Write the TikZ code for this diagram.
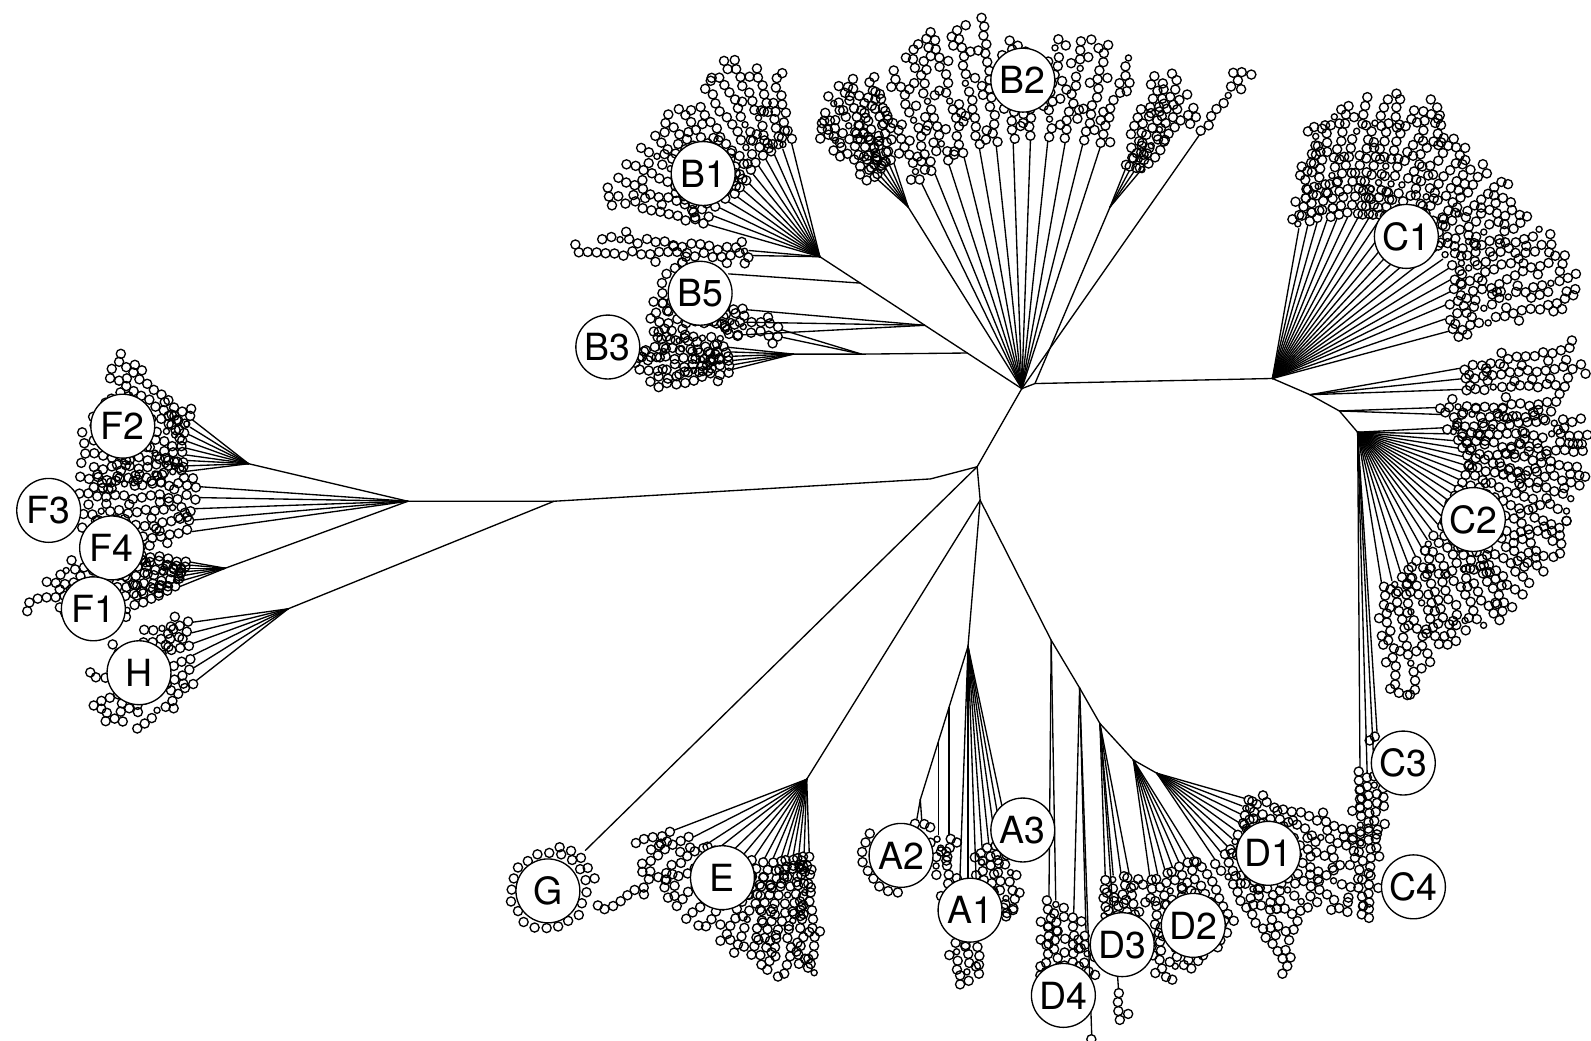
\documentclass[tikz,border=0pt]{standalone}
\usepackage{fontspec}
\setmainfont{TeX Gyre Heros}
\usetikzlibrary{calc}

% fan of leaf branches: hub, list of angle/line length/number of leaves
\newcommand\leafrays[2]{%
  \foreach \ra/\rl/\rn in {#2}{%
    \draw[branch] (#1) -- ++(\ra:\rl);
    \foreach \kk in {1,...,\rn}{%
      \pgfmathsetmacro\dd{\rl+8.8*\kk-4.4}%
      \pgfmathsetmacro\pa{\ra+90}%
      \pgfmathsetmacro\jit{2.6*rand}%
      \pgfmathsetmacro\rr{rnd<0.08 ? 3 : 4.5}%
      \draw[leaf] (#1) ++(\ra:\dd) ++(\pa:\jit) circle[radius=\rr];
      \pgfmathtruncatemacro\ex{rnd<0.45 ? 1 : 0}%
      \ifnum\ex=1
        \pgfmathsetmacro\side{rnd<0.5 ? -7.8 : 7.8}%
        \pgfmathsetmacro\de{\dd+3.5}%
        \draw[leaf] (#1) ++(\ra:\de) ++(\pa:\side) circle[radius=4.5];
      \fi
    }%
  }%
}
% ring of leaves round a label
\newcommand\leafring[3]{%
  \foreach \t in {#3}{%
    \pgfmathsetmacro\jit{#2+2*rand}%
    \draw[leaf] (#1) ++(\t:\jit) circle[radius=4.5];
  }%
}

\begin{document}
\begin{tikzpicture}[x=0.02cm,y=-0.02cm,
  branch/.style={line width=0.75pt,line cap=round},
  leaf/.style={line width=0.75pt},
  clade/.style={draw,circle,fill=white,line width=0.75pt,minimum size=1.26cm,
    inner sep=0pt,font=\fontsize{21}{21}\selectfont}]
\useasboundingbox (0,0) rectangle (1568,1025);
\pgfmathsetseed{11}

% backbone
\coordinate (T) at (1007,383);
\coordinate (T2) at (1020,378);
\coordinate (Ch) at (1254,373);
\coordinate (Cb1) at (1291,389);
\coordinate (Cb2) at (1320,405);
\coordinate (C2h) at (1338,426);
\coordinate (M) at (963,460);
\coordinate (Mb) at (917,472);
\coordinate (J) at (546,494);
\coordinate (Fh) at (402,494);
\coordinate (F2h) at (245,457);
\coordinate (F1h) at (222,560);
\coordinate (Hh) at (284,600);
\coordinate (Gh) at (577,838);
\coordinate (L) at (966,493);
\coordinate (Eh) at (795,768);
\coordinate (Ah) at (954,637);
\coordinate (A2h) at (907,788);
\coordinate (Aa) at ($(Ah)!0.4!(A2h)$);
\coordinate (Ab) at ($(Ah)!0.62!(A2h)$);
\coordinate (Da) at (1036,631);
\coordinate (Db) at (1064,678);
\coordinate (Dc) at (1084,713);
\coordinate (Dd) at (1117,749);
\coordinate (D1h) at (1140,762);
\coordinate (Bh) at (808,253);
\coordinate (B3j) at ($(T)!0.27!(Bh)$);
\coordinate (B3k) at (849,349);
\coordinate (B3h) at (782,349);
\coordinate (B5k) at ($(T)!0.48!(Bh)$);
\coordinate (B5j) at ($(T)!0.8!(Bh)$);
\coordinate (B2L) at (895,204);
\coordinate (B2R) at (1094,204);

\draw[branch] (T) -- (T2) -- (Ch) -- (Cb1) -- (Cb2) -- (C2h);
\draw[branch] (T) -- (M) -- (Mb) -- (J) -- (Fh);
\draw[branch] (J) -- (Hh);
\draw[branch] (Fh) -- (F2h);
\draw[branch] (Fh) -- (F1h);
\draw[branch] (M) -- (Gh);
\draw[branch] (M) -- (L) -- (Eh);
\draw[branch] (L) -- (Ah) -- (A2h);
\draw[branch] (L) -- (Da) -- (Db) -- (Dc) -- (Dd) -- (D1h);
\draw[branch] (T) -- (Bh);
\draw[branch] (B3j) -- (B3k) -- (B3h);
\draw[branch] (T) -- (B2L);
\draw[branch] (T2) -- (B2R);
\draw[branch] (B5j) -- ++(184:130);

% F and H
\leafrays{F2h}{218/70/11, 212/68/11, 206/66/10, 200/65/10, 194/64/11, 188/62/12, 183/60/12, 178/60/11, 173/62/10}
\leafrays{Fh}{184/205/14, 181/205/15, 178/210/14, 175/212/13, 172/215/12}
\leafrays{F1h}{190/35/10, 185/35/12, 180/38/14, 175/40/16, 170/42/18, 164/45/14, 158/48/10}
\leafrays{Hh}{172/95/6, 166/98/9, 160/100/12, 154/104/13, 148/110/12, 142/115/9}

% G and E
\leafring{540,878}{37}{-160,-142,...,190}
\leafring{540,878}{46}{-75,-60,-45,-30,-15}
\leafrays{Eh}{88/72/14, 92/72/13, 96/74/14, 100/76/12, 104/78/13, 108/80/12, 113/84/12, 118/88/11, 124/92/10, 130/98/10, 136/104/9, 142/110/8, 147/118/14, 153/125/7, 159/140/5}

% A
\leafrays{Ah}{90/290/5, 88/292/4, 92/288/4}
\leafrays{Ah}{78/178/2, 80/196/8, 82/194/9, 84/195/8, 86/200/6}
\leafrays{Aa}{90/125/7}
\leafrays{Ab}{90/92/5}
\leafrays{A2h}{100/20/1, 86/20/1}
\leafring{888,843}{37}{95,110,...,215}

% D
\leafrays{Da}{90.5/252/9, 89/256/8}
\leafrays{Db}{91.5/222/7, 88.5/240/6, 88/342/2}
\leafrays{Dc}{88/150/6, 85/150/6, 82/148/6, 79/150/5, 86/262/4}
\leafrays{Dd}{82/115/12, 78/115/11, 74/112/12, 70/112/11, 66/110/11, 62/110/10, 58/112/9}
\leafrays{D1h}{16/90/14, 21/90/14, 26/92/14, 31/94/15, 36/96/16, 41/98/12, 46/100/12, 51/100/13, 56/102/15}

% C
\leafrays{C2h}{86.3/296/1, 89.6/330/17, 88.4/336/15, 87.2/335/10}
\leafrays{C2h}{-3/84/16, 1/90/16, 5/95/15, 9/100/14, 13/106/14, 17/110/13, 21/110/13, 25/110/13, 29/110/14, 33/110/14, 37/110/14, 41/115/13, 45/118/13, 49/120/13, 53/122/13, 57/126/12, 61/130/11, 65/135/11, 69/140/10, 73/145/11, 77/150/13, 81/150/13}
\leafrays{Cb2}{-2/95/14, 2/100/12}
\leafrays{Cb1}{-10/150/13, -6/150/14, -2/150/12}
\leafrays{Ch}{-80/150/12, -77/155/13, -74/160/14, -71/165/15, -68/170/15, -65/175/15, -62/180/14, -59/185/15, -56/190/13, -53/195/12, -50/195/12, -47/200/10, -44/200/11, -41/205/11, -38/205/10, -35/205/10, -32/205/11, -29/200/12, -26/195/13, -23/185/15, -19/180/16, -15/180/15}

% B
\leafrays{B2L}{222/40/9, 228/40/10, 234/42/11, 240/45/11, 246/45/11, 252/45/10}
\leafrays{T}{244/225/12, 248/228/13, 252/232/14, 256/235/15, 260/240/14, 264/240/15, 268/242/12, 272/245/10, 276/245/12, 280/246/12, 284/248/12, 288/250/11, 305/305/9}
\leafrays{B2R}{292/40/11, 298/40/12, 304/42/11, 310/44/10}
\leafrays{Bh}{256/115/8, 251/112/10, 246/110/12, 241/110/11, 236/108/11, 231/105/10, 226/100/12, 221/100/12, 216/100/12, 211/105/12, 206/110/12, 201/112/12, 196/115/12, 181/66/20, 185/70/17}
\leafrays{B5k}{185/176/11, 181/178/11, 177/180/10}
\leafrays{B3k}{192/80/9, 197/82/8}
\leafrays{B3h}{166/62/9, 170/60/10, 174/60/11, 178/60/11, 182/62/10, 186/65/8}
\leafring{690,289}{37}{150,165,...,240}

% clade labels
\node[clade] (B2) at (1008,79) {B2};
\node[clade] (B1) at (693,171) {B1};
\node[clade] (B5) at (690,289) {B5};
\node[clade] (B3) at (599,342) {B3};
\node[clade] (C1) at (1386,233) {C1};
\node[clade] (C2) at (1452,512) {C2};
\node[clade] (C3) at (1383,752) {C3};
\node[clade] (C4) at (1393,874) {C4};
\node[clade] (F2) at (121,420) {F2};
\node[clade] (F3) at (48,503) {F3};
\node[clade] (F4) at (110,540) {F4};
\node[clade] (F1) at (92,600) {F1};
\node[clade] (H) at (137,663) {H};
\node[clade] (G) at (540,878) {G};
\node[clade] (E) at (712,865) {E};
\node[clade] (A2) at (888,843) {A2};
\node[clade] (A3) at (1008,818) {A3};
\node[clade] (A1) at (956,897) {A1};
\node[clade] (D1) at (1250,841) {D1};
\node[clade] (D2) at (1176,912) {D2};
\node[clade] (D3) at (1106,931) {D3};
\node[clade] (D4) at (1048,981) {D4};
\end{tikzpicture}
\end{document}
